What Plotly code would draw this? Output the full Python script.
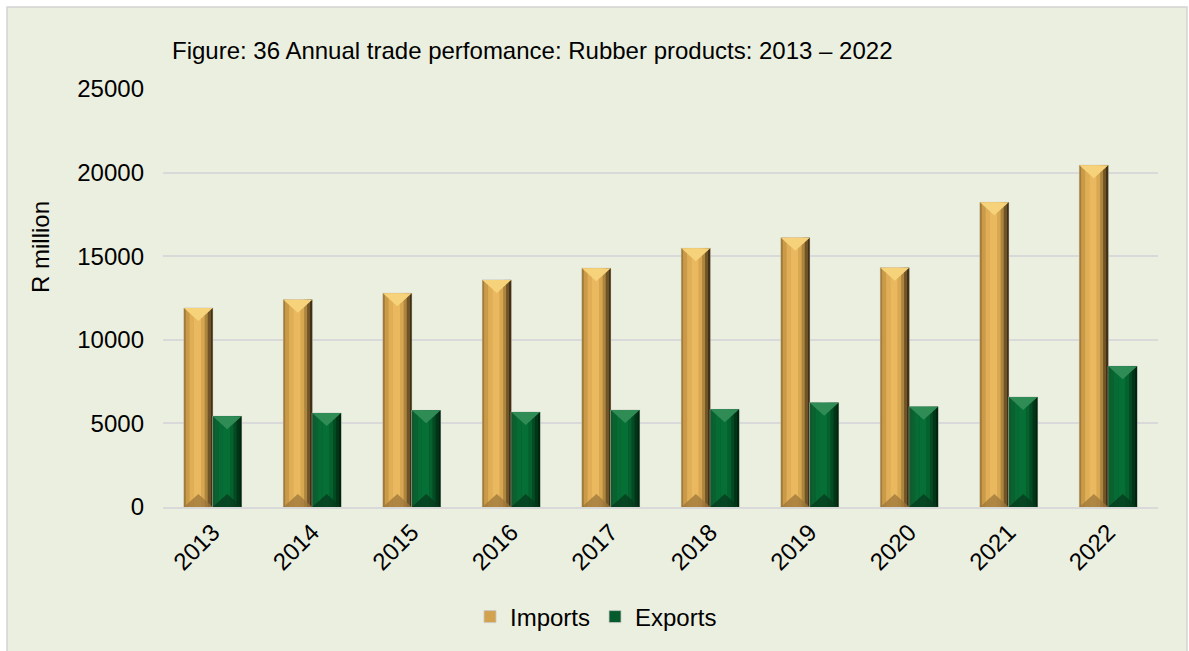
import numpy as np
import plotly.graph_objects as go

# Annual trade values, R million
years = ["2013", "2014", "2015", "2016", "2017", "2018", "2019", "2020", "2021", "2022"]
imports = [11900, 12400, 12780, 13580, 14280, 15470, 16110, 14310, 18220, 20440]
exports = [5430, 5620, 5780, 5680, 5800, 5840, 6240, 6000, 6580, 8420]

y_ticks = [0, 5000, 10000, 15000, 20000, 25000]

# Figure geometry (pixels)
W, H = 1189, 651
PL, PR, PT, PB = 163, 1158, 89, 507
Y_MAX = 25000
BAR_W = 0.29
BEVEL_PX = 13

FONT = "Liberation Sans, Arial, sans-serif"
FS = 24
BG = "#EBEFDF"

# Column shading: strip boundaries (fraction of bar width) and colours
strip_edges = [0, 0.07, 0.2, 0.35, 0.6, 0.72, 0.82, 0.92, 1.0]
gold_strips = ["#A07C38", "#CB9A48", "#E0AE56", "#EAB95F", "#D8A751", "#AC853F", "#705427", "#403017"]
green_strips = ["#15592C", "#0B6231", "#076B34", "#066F36", "#05612E", "#034C23", "#023518", "#01240F"]

series = [
    dict(name="Imports", values=imports, offset=-BAR_W, base="#D2A24E",
         strips=gold_strips, top="#F6D27A", bottom="#9C763A"),
    dict(name="Exports", values=exports, offset=0.0, base="#065A2C",
         strips=green_strips, top="#2F8C55", bottom="#07381C"),
]

x = np.arange(len(years))
bevel = BEVEL_PX * Y_MAX / (PB - PT)

fig = go.Figure()

for s in series:
    vals = np.array(s["values"], dtype=float)
    # base column (carries the legend entry)
    fig.add_trace(go.Bar(
        x=x + s["offset"] + BAR_W / 2, y=vals, width=BAR_W, name=s["name"],
        marker=dict(color=s["base"], line=dict(color="#C8C8C8", width=0.8)),
        showlegend=True,
    ))
    # vertical shading strips for a rounded look
    for k, col in enumerate(s["strips"]):
        a, b = strip_edges[k], strip_edges[k + 1]
        fig.add_trace(go.Bar(
            x=x + s["offset"] + BAR_W * (a + b) / 2, y=vals, width=BAR_W * (b - a),
            marker=dict(color=col, line=dict(width=0)),
            showlegend=False, hoverinfo="skip",
        ))
    # top and bottom bevel facets
    tx, ty, bx, by = [], [], [], []
    for xi, v in zip(x, vals):
        xl = xi + s["offset"]
        xr = xl + BAR_W
        xc = (xl + xr) / 2
        tx += [xl, xr, xc, xl, None]
        ty += [v, v, v - bevel, v, None]
        bx += [xl, xr, xc, xl, None]
        by += [0, 0, bevel, 0, None]
    fig.add_trace(go.Scatter(x=tx, y=ty, mode="lines", fill="toself",
                             fillcolor=s["top"], line=dict(width=0),
                             showlegend=False, hoverinfo="skip"))
    fig.add_trace(go.Scatter(x=bx, y=by, mode="lines", fill="toself",
                             fillcolor=s["bottom"], line=dict(width=0),
                             opacity=0.75, showlegend=False, hoverinfo="skip"))

pw = PR - PL
ph = PB - PT


def px_x(p):
    return (p - PL) / pw


def px_y(p):
    return (PB - p) / ph


fig.update_layout(
    width=W, height=H,
    margin=dict(l=PL, r=W - PR, t=PT, b=H - PB, autoexpand=False),
    paper_bgcolor="white",
    plot_bgcolor="white",
    barmode="overlay",
    font=dict(family=FONT, size=FS, color="#000000"),
    title=dict(
        text="Figure: 36 Annual trade perfomance: Rubber products: 2013 – 2022",
        x=172 / W, xanchor="left", y=1 - 51 / H, yanchor="middle",
        font=dict(family=FONT, size=FS, color="#000000"),
    ),
    xaxis=dict(
        range=[-0.5, len(years) - 0.5],
        tickmode="array", tickvals=list(x), ticktext=years,
        tickangle=-45, ticks="", showgrid=False,
        showline=True, linecolor="#D9D9D9", linewidth=1.5,
        zeroline=False, tickfont=dict(size=FS),
    ),
    yaxis=dict(
        range=[0, Y_MAX], tickmode="array", tickvals=y_ticks,
        ticktext=[str(v) for v in y_ticks],
        showgrid=True, gridcolor="#D9D9D9", gridwidth=1.5,
        zeroline=False, showline=False, ticks="",
        ticklabelstandoff=18, tickfont=dict(size=FS),
    ),
    legend=dict(
        orientation="h", x=px_x(596), xanchor="center",
        y=px_y(617), yanchor="middle",
        bgcolor="rgba(0,0,0,0)", font=dict(size=FS),
        itemwidth=30, tracegroupgap=0,
    ),
    showlegend=True,
    shapes=[
        dict(type="rect", xref="paper", yref="paper", layer="below",
             x0=px_x(7), x1=px_x(1187), y0=px_y(H + 10), y1=px_y(7),
             fillcolor=BG, line=dict(color="#D4D4D4", width=1.5)),
    ],
    annotations=[
        dict(text="R million", xref="paper", yref="paper",
             x=px_x(40), y=px_y(247), xanchor="center", yanchor="middle",
             textangle=-90, showarrow=False, font=dict(size=FS)),
    ],
)

fig.write_html("out.html")
